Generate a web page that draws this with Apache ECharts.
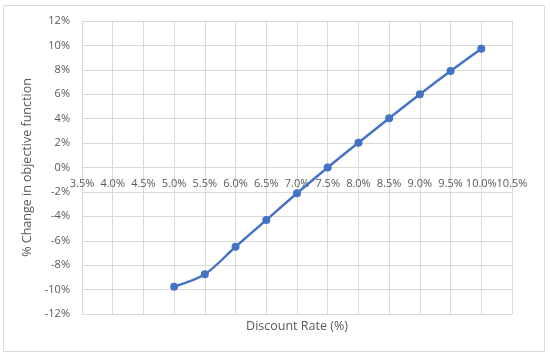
<!DOCTYPE html>
<html>
<head>
<meta charset="utf-8">
<script src="https://cdn.jsdelivr.net/npm/echarts@6/dist/echarts.min.js"></script>
<style>
  html, body { margin: 0; padding: 0; background: #fff; }
  #chart { width: 550px; height: 357px; }
</style>
</head>
<body>
<div id="chart"></div>
<script>
// discount rate (%) and % change in objective function
const rates = [5.0, 5.5, 6.0, 6.5, 7.0, 7.5, 8.0, 8.5, 9.0, 9.5, 10.0];
const changes = [-9.76, -8.75, -6.49, -4.3, -2.11, 0.0, 2.03, 4.03, 6.0, 7.9, 9.73];

const xTitle = "Discount Rate (%)";
const yTitle = "% Change in objective function";

const chart = echarts.init(document.getElementById("chart"));
const textColor = "#595959";
const gridColor = "#d9d9d9";
const fontFamily = "Open Sans, sans-serif";

const gridTop = 21, gridBottom = 43;
const yMin = -12, yMax = 12;
// onZero doesn't kick in here, so lift the x axis up to the 0% line by hand
const plotH = 357 - gridTop - gridBottom;
const zeroOffset = -plotH * (0 - yMin) / (yMax - yMin);

chart.setOption({
  animation: false,
  graphic: [
    {
      type: "rect",
      shape: { x: 3.5, y: 5.5, width: 541, height: 346 },
      style: { fill: "none", stroke: gridColor, lineWidth: 1 },
      silent: true,
    },
    {
      // x axis title sits below the plot
      type: "text",
      x: 297,
      y: 326,
      style: {
        text: xTitle,
        fill: textColor,
        font: "12.5px " + fontFamily,
        align: "center",
        verticalAlign: "middle",
      },
      silent: true,
    },
  ],
  grid: { left: 82, right: 38, top: gridTop, bottom: gridBottom },
  xAxis: {
    type: "value",
    min: 3.5,
    max: 10.5,
    interval: 0.5,
    offset: zeroOffset,
    axisLine: { show: true, onZero: false, lineStyle: { color: gridColor } },
    axisTick: { show: false },
    axisLabel: {
      color: textColor,
      fontSize: 11,
      fontFamily,
      margin: 11,
      showMinLabel: true,
      showMaxLabel: true,
      hideOverlap: false,
      formatter: (v) => v.toFixed(1) + "%",
    },
    splitLine: { show: true, lineStyle: { color: gridColor } },
  },
  yAxis: {
    type: "value",
    min: yMin,
    max: yMax,
    interval: 2,
    name: yTitle,
    nameLocation: "middle",
    nameGap: 46,
    nameTextStyle: { color: textColor, fontSize: 12.5, fontFamily },
    axisLine: { show: true, onZero: false, lineStyle: { color: gridColor } },
    axisTick: { show: false },
    axisLabel: {
      color: textColor,
      fontSize: 11,
      fontFamily,
      margin: 12,
      formatter: (v) => v + "%",
    },
    splitLine: { show: true, lineStyle: { color: gridColor } },
  },
  series: [
    {
      type: "line",
      data: rates.map((r, i) => [r, changes[i]]),
      smooth: 0.3,
      symbol: "circle",
      symbolSize: 8,
      lineStyle: { color: "#4472C4", width: 2.4 },
      itemStyle: { color: "#4472C4" },
    },
  ],
});
</script>
</body>
</html>
